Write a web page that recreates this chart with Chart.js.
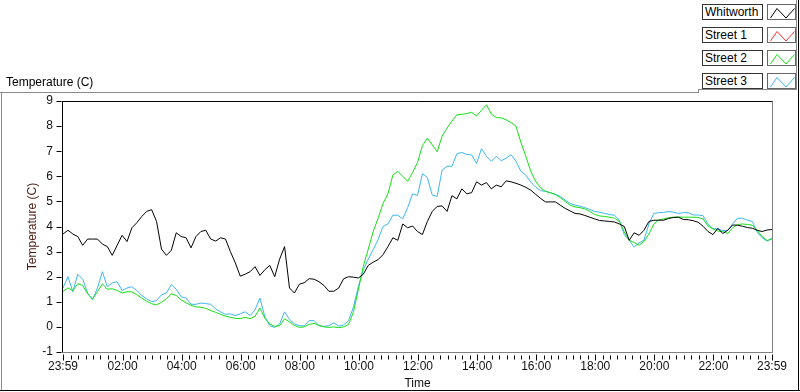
<!DOCTYPE html>
<html>
<head>
<meta charset="utf-8">
<script src="https://cdn.jsdelivr.net/npm/chart.js@4.4.1/dist/chart.umd.min.js"></script>
<style>
  body { margin: 0; background: #fff; }
  #wrap { position: relative; width: 800px; height: 392px; font-family: 'Liberation Sans', Arial, sans-serif; font-size: 12px; color: #000; }
  #wrap canvas { position: absolute; left: 0; top: 0; }
  .ln { position: absolute; }
  .lgText { position: absolute; left: 702px; width: 61px; height: 16px; box-sizing: border-box; border: 1px solid #333; background: #fff; padding-left: 2px; line-height: 14px; white-space: nowrap; }
  .lgIcon { position: absolute; left: 767px; width: 29px; height: 16px; box-sizing: border-box; border: 1px solid #666; background: #fff; }
  .lgIcon svg { position: absolute; left: 0; top: 0; }
  #topLabel { position: absolute; left: 6px; top: 75px; line-height: 14px; }
</style>
</head>
<body>
<div id="wrap">
  <canvas id="chart" width="800" height="392"></canvas>
  <div id="topLabel">Temperature (C)</div>
  <div id="legend"></div>
  <!-- outer frame -->
  <div class="ln" style="left:0;top:92px;width:699px;height:1px;background:#8a8a8a"></div>
  <div class="ln" style="left:698px;top:89px;width:1px;height:4px;background:#8a8a8a"></div>
  <div class="ln" style="left:698px;top:89px;width:99px;height:1px;background:#8a8a8a"></div>
  <div class="ln" style="left:796px;top:0;width:1px;height:90px;background:#8a8a8a"></div>
  <div class="ln" style="left:1px;top:92px;width:1px;height:298px;background:#8a8a8a"></div>
  <div class="ln" style="left:0;top:390px;width:800px;height:1px;background:#000"></div>
  <div class="ln" style="left:798px;top:0;width:1px;height:391px;background:#000"></div>
</div>
<script>
// minutes after 23:59 (10 minute samples)
const minutes = [0,10,20,30,40,50,60,70,80,90,100,110,120,130,140,150,160,170,180,190,
  200,210,220,230,240,250,260,270,280,290,300,310,320,330,340,350,360,370,380,390,
  400,410,420,430,440,450,460,470,480,490,500,510,520,530,540,550,560,570,580,590,
  600,610,620,630,640,650,660,670,680,690,700,710,720,730,740,750,760,770,780,790,
  800,810,820,830,840,850,860,870,880,890,900,910,920,930,940,950,960,970,980,990,
  1000,1010,1020,1030,1040,1050,1060,1070,1080,1090,1100,1110,1120,1130,1140,1150,1160,1170,1180,1190,
  1200,1210,1220,1230,1240,1250,1260,1270,1280,1290,1300,1310,1320,1330,1340,1350,1360,1370,1380,1390,
  1400,1410,1420,1430,1440];

const whitworth = [3.7,3.85,3.7,3.6,3.25,3.5,3.5,3.5,3.3,3.2,
  2.85,3.25,3.65,3.4,3.95,4.15,4.4,4.6,4.67,4.2,
  3.1,2.85,3.05,3.75,3.6,3.55,3.15,3.6,3.8,3.85,
  3.5,3.42,3.55,3.5,3.0,2.55,2.02,2.1,2.2,2.4,
  2.05,2.28,2.45,2.0,2.7,3.2,1.55,1.35,1.7,1.76,
  1.92,1.9,1.8,1.65,1.42,1.42,1.55,1.92,2.0,1.98,
  1.95,2.1,2.45,2.58,2.68,2.88,3.2,3.55,3.45,4.1,
  3.95,4.02,3.8,3.68,4.2,4.6,4.8,4.82,4.6,5.23,
  5.1,5.5,5.3,5.35,5.78,5.65,5.75,5.5,5.65,5.58,
  5.82,5.78,5.72,5.65,5.56,5.45,5.28,5.12,4.98,4.98,
  4.98,4.85,4.72,4.62,4.52,4.5,4.44,4.37,4.3,4.24,
  4.22,4.2,4.18,4.1,4.0,3.45,3.75,3.65,3.85,4.2,
  4.25,4.25,4.25,4.32,4.36,4.37,4.28,4.27,4.23,4.17,
  4.01,3.8,3.68,3.93,3.72,3.85,4.06,4.05,4.01,3.96,
  3.93,3.85,3.8,3.86,3.88];

const street1 = []; // no trace visible

const street2 = [1.42,1.55,1.45,1.72,1.65,1.32,1.12,1.4,1.72,1.5,
  1.52,1.45,1.35,1.4,1.4,1.28,1.15,1.02,0.92,0.88,
  0.98,1.12,1.32,1.25,1.08,0.96,0.86,0.8,0.78,0.74,
  0.65,0.58,0.5,0.43,0.38,0.34,0.33,0.38,0.33,0.42,
  0.75,0.35,0.12,0.02,0.05,0.32,0.2,0.06,-0.02,0.0,
  0.1,0.14,0.06,0.0,-0.02,0.0,-0.03,0.0,0.1,0.6,
  1.5,2.42,3.1,3.8,4.33,4.92,5.3,6.05,6.2,6.0,
  5.8,6.15,6.55,7.22,7.52,7.25,6.98,7.6,7.92,8.2,
  8.45,8.47,8.5,8.55,8.4,8.63,8.85,8.48,8.34,8.33,
  8.25,8.14,8.0,7.35,6.8,6.2,5.8,5.54,5.4,5.34,
  5.28,5.15,5.0,4.85,4.78,4.75,4.7,4.6,4.48,4.42,
  4.4,4.37,4.33,4.2,3.78,3.45,3.36,3.25,3.4,3.7,
  4.1,4.26,4.3,4.35,4.37,4.38,4.37,4.37,4.37,4.36,
  4.3,4.02,3.9,3.82,3.8,3.72,3.95,4.08,4.1,4.08,
  4.05,3.85,3.6,3.44,3.5];

const street3 = [1.55,2.0,1.4,2.1,1.9,1.35,1.08,1.55,2.2,1.6,
  1.75,1.8,1.45,1.55,1.6,1.45,1.25,1.12,1.0,1.05,
  1.28,1.35,1.68,1.5,1.2,1.15,0.9,0.9,0.95,0.93,
  0.9,0.72,0.6,0.5,0.52,0.45,0.52,0.6,0.45,0.68,
  1.15,0.4,0.05,-0.02,0.12,0.6,0.3,0.12,0.05,0.04,
  0.25,0.25,0.05,0.02,0.05,0.16,0.03,0.08,0.25,0.8,
  1.62,2.28,2.7,3.08,3.48,4.0,4.1,4.45,4.45,4.3,
  4.75,5.3,5.24,6.1,5.95,5.25,5.2,6.25,6.4,6.4,
  6.9,6.95,6.87,6.85,6.51,7.1,6.8,6.6,6.8,6.62,
  6.72,6.86,6.6,6.2,6.05,5.77,5.57,5.43,5.4,5.35,
  5.28,5.2,5.05,4.92,4.85,4.81,4.75,4.68,4.6,4.57,
  4.52,4.48,4.45,4.25,3.68,3.45,3.18,3.35,3.45,4.1,
  4.52,4.55,4.56,4.6,4.57,4.52,4.55,4.55,4.46,4.46,
  4.43,4.1,3.92,3.9,3.84,3.84,4.1,4.33,4.33,4.25,
  4.2,3.78,3.55,3.42,3.54];

const seriesNames = ['Whitworth', 'Street 1', 'Street 2', 'Street 3'];
const seriesColors = ['#000000', '#ff3030', '#14e014', '#3cb6f2'];

const tickMinutes = [0,121,241,361,481,601,721,841,961,1081,1201,1321,1440];
const tickLabels = ['23:59','02:00','04:00','06:00','08:00','10:00','12:00','14:00','16:00','18:00','20:00','22:00','23:59'];
const minorStep = 15;
const yTicks = [-1,0,1,2,3,4,5,6,7,8,9];

function toPoints(vals) {
  return vals.map((v, i) => ({ x: minutes[i], y: v }));
}

// legend boxes (HTML)
(function buildLegend() {
  const lg = document.getElementById('legend');
  seriesNames.forEach((name, i) => {
    const top = 4 + i * 23;
    const t = document.createElement('div');
    t.className = 'lgText';
    t.style.top = top + 'px';
    t.textContent = name;
    lg.appendChild(t);
    const ic = document.createElement('div');
    ic.className = 'lgIcon';
    ic.style.top = top + 'px';
    ic.innerHTML = '<svg width="29" height="16"><polyline points="2.5,13 9,3.5 18,13 26.5,3.5" fill="none" stroke="' + seriesColors[i] + '" stroke-width="1"/></svg>';
    lg.appendChild(ic);
  });
})();

// plot frame + tick marks
const axisDecor = {
  id: 'axisDecor',
  afterDraw(chart) {
    const { ctx, chartArea: a, scales: { x, y } } = chart;
    const L = Math.round(a.left) - 0.5, R = Math.round(a.right) + 0.5;
    const T = Math.round(a.top) + 0.5, B = Math.round(a.bottom) + 0.5;
    ctx.save();
    ctx.lineWidth = 1;
    const seg = (x1, y1, x2, y2) => { ctx.beginPath(); ctx.moveTo(x1, y1); ctx.lineTo(x2, y2); ctx.stroke(); };
    ctx.strokeStyle = '#808080';
    seg(R, T, R, B + 0.5);
    seg(L, B, R, B);
    ctx.strokeStyle = '#000';
    seg(L, T, R, T);
    seg(L, T - 0.5, L, B);
    // y ticks
    yTicks.forEach(v => {
      const py = Math.round(y.getPixelForValue(v)) + 0.5;
      seg(L - 6, py, L - 1, py);
    });
    // x ticks
    tickMinutes.forEach(v => {
      const px = Math.round(x.getPixelForValue(v)) + 0.5;
      seg(px, B + 2, px, B + 8);
    });
    for (let m = 1 + minorStep; m < 1440; m += minorStep) {
      if ((m - 1) % 120 === 0) continue;
      const px = Math.round(x.getPixelForValue(m)) + 0.5;
      seg(px, B + 3, px, B + 7);
    }
    ctx.restore();
  }
};

Chart.defaults.font.family = "'Liberation Sans', Arial, sans-serif";
Chart.defaults.font.size = 12;
Chart.defaults.color = '#000';

const values = [whitworth, street1, street2, street3];
const drawOrder = [0, 3, 1, 2];

new Chart(document.getElementById('chart'), {
  type: 'line',
  data: {
    datasets: seriesNames.map((name, i) => ({
      label: name,
      data: toPoints(values[i]),
      borderColor: seriesColors[i],
      borderWidth: 1,
      pointRadius: 0,
      tension: 0,
      fill: false,
      order: drawOrder[i]
    }))
  },
  options: {
    responsive: false,
    animation: false,
    layout: { padding: { top: 101, right: 28, left: 0, bottom: 0 } },
    plugins: { legend: { display: false }, tooltip: { enabled: false } },
    scales: {
      x: {
        type: 'linear', min: 0, max: 1440,
        grid: { display: false, drawTicks: false },
        border: { display: false },
        afterBuildTicks: s => { s.ticks = tickMinutes.map(v => ({ value: v })); },
        afterFit: s => { s.height = 40; },
        ticks: { autoSkip: false, maxRotation: 0, padding: 7, color: '#111', callback: (v, i) => tickLabels[i] },
        title: { display: true, text: 'Time', color: '#111', padding: { top: 0, bottom: 1 } }
      },
      y: {
        min: -1, max: 9,
        grid: { display: false, drawTicks: false },
        border: { display: false },
        afterBuildTicks: s => { s.ticks = yTicks.map(v => ({ value: v })); },
        afterFit: s => { s.width = 63; },
        ticks: { padding: 10, color: '#111' },
        title: { display: true, text: 'Temperature (C)', color: '#4b1c10', padding: { top: 25, bottom: 0 } }
      }
    }
  },
  plugins: [axisDecor]
});
</script>
</body>
</html>
